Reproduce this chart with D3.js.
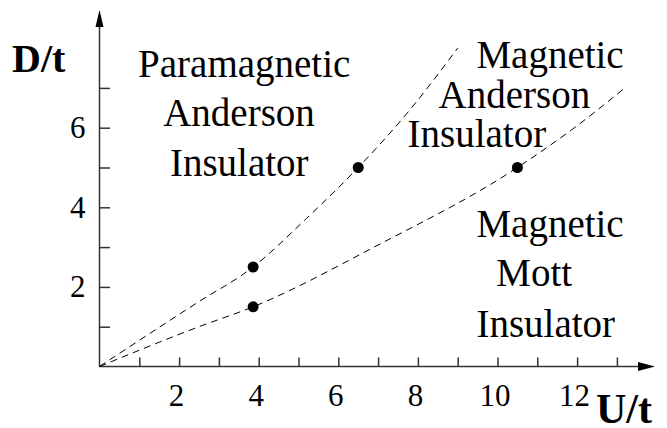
<!DOCTYPE html>
<html>
<head>
<meta charset="utf-8">
<script src="https://cdn.jsdelivr.net/npm/d3@7"></script>
<style>
  html, body { margin: 0; padding: 0; background: #fff; }
  svg { display: block; }
  svg text { font-family: "Liberation Serif", "Tinos", "Times New Roman", Times, "DejaVu Serif", "Noto Serif", serif !important; fill: #000; }
</style>
</head>
<body>
<svg id="chart" width="667" height="428"></svg>
<script>
// ---- data ----
const upperBoundary = [[0, 0], [2.45, 1.6], [3.86, 2.5], [5.2, 3.72], [6.5, 5], [7.8, 6.45], [9.0, 8.0]];
const lowerBoundary = [[0, 0], [2.5, 1.0], [3.86, 1.5], [6.9, 3.0], [10.5, 5.0], [12.0, 6.05], [13.2, 7.0]];
const points = [[3.86, 2.5], [3.86, 1.5], [6.5, 5.0], [10.5, 5.0]];
const xMinorTicks = [1, 2, 3, 4, 5, 6, 7, 8, 9, 10, 11, 12, 13];
const xTickLabels = [2, 4, 6, 8, 10, 12];
const yMinorTicks = [1, 2, 3, 4, 5, 6, 7];
const yTickLabels = [2, 4, 6];
const xTitle = "U/t";
const yTitle = "D/t";
const regionLabels = [
  { lines: ["Paramagnetic", "Anderson", "Insulator"], u: [0.97, 1.6, 1.77], d: [7.28, 6.04, 4.78] },
  { lines: ["Magnetic", "Anderson", "Insulator"], u: [9.47, 8.52, 7.74], d: [7.5, 6.5, 5.52] },
  { lines: ["Magnetic", "Mott", "Insulator"], u: [9.47, 9.97, 9.47], d: [3.26, 2.03, 0.75] }
];

// ---- layout ----
const svg = d3.select("#chart");
const x = d3.scaleLinear().domain([0, 13]).range([99.5, 616.9]);
const y = d3.scaleLinear().domain([0, 8]).range([366.5, 48.1]);
const axisColor = "#333";
const serif = "'Liberation Serif', Tinos, 'Times New Roman', Times, 'DejaVu Serif', serif";

// axis lines with arrows
svg.append("line")
  .attr("x1", x(0)).attr("y1", y(0)).attr("x2", 640).attr("y2", y(0))
  .attr("stroke", axisColor).attr("stroke-width", 1.5);
svg.append("path")
  .attr("d", `M655,${y(0)} L638,${y(0) - 4.5} L638,${y(0) + 4.5} Z`)
  .attr("fill", "#000");
svg.append("line")
  .attr("x1", x(0)).attr("y1", y(0)).attr("x2", x(0)).attr("y2", 25)
  .attr("stroke", axisColor).attr("stroke-width", 1.5);
svg.append("path")
  .attr("d", `M${x(0)},10 L${x(0) - 4},27 L${x(0) + 4},27 Z`)
  .attr("fill", "#000");

// x ticks
const gx = svg.append("g").attr("transform", `translate(0,${y(0)})`)
  .call(d3.axisBottom(x).tickValues(xMinorTicks).tickSize(-9).tickFormat(""));
gx.select(".domain").remove();
gx.selectAll(".tick line").attr("stroke", axisColor).attr("stroke-width", 1.5);

const gxl = svg.append("g").attr("transform", `translate(0,${y(0)})`)
  .attr("font-family", serif)
  .call(d3.axisBottom(x).tickValues(xTickLabels).tickSize(0).tickPadding(17.5).tickFormat(d3.format("d")));
gxl.attr("font-family", serif);
gxl.select(".domain").remove();
gxl.selectAll(".tick text")
  .style("font-family", serif).attr("font-size", 31).attr("fill", "#000").attr("dx", -3);

// y ticks
const gy = svg.append("g").attr("transform", `translate(${x(0)},0)`)
  .call(d3.axisLeft(y).tickValues(yMinorTicks).tickSize(-10.5)
    .tickPadding(14)
    .tickFormat(d => yTickLabels.includes(d) ? d : ""));
gy.attr("font-family", serif);
gy.select(".domain").remove();
gy.selectAll(".tick line").attr("stroke", axisColor).attr("stroke-width", 1.5);
gy.selectAll(".tick text")
  .style("font-family", serif).attr("font-size", 31).attr("fill", "#000");

// boundary curves
const line = d3.line().x(d => x(d[0])).y(d => y(d[1])).curve(d3.curveMonotoneX);
[upperBoundary, lowerBoundary].forEach(b => {
  svg.append("path").datum(b).attr("d", line)
    .attr("fill", "none").attr("stroke", "#000").attr("stroke-width", 1)
    .attr("stroke-dasharray", "7,5");
});

// points
svg.selectAll("circle.pt").data(points).enter().append("circle")
  .attr("class", "pt")
  .attr("cx", d => x(d[0])).attr("cy", d => y(d[1])).attr("r", 5.5)
  .attr("fill", "#000");

// region labels
regionLabels.forEach(r => {
  r.lines.forEach((t, i) => {
    svg.append("text")
      .attr("x", x(r.u[i])).attr("y", y(r.d[i]))
      .style("font-family", serif)
      .attr("font-size", 39)
      .text(t);
  });
});

// axis titles
svg.append("text").attr("x", 12).attr("y", 72).style("font-family", serif)
  .attr("font-size", 40).attr("font-weight", "bold").text(yTitle);
svg.append("text").attr("x", 596).attr("y", 423).style("font-family", serif)
  .attr("font-size", 42).attr("font-weight", "bold").text(xTitle);
</script>
</body>
</html>
